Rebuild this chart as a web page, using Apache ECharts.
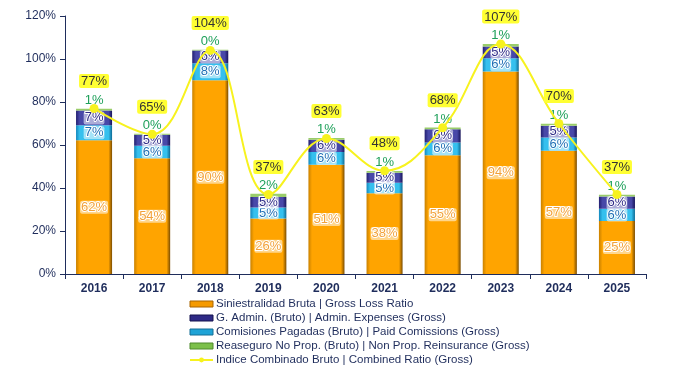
<!DOCTYPE html>
<html>
<head>
<meta charset="utf-8">
<script src="https://cdn.jsdelivr.net/npm/echarts@6/dist/echarts.min.js"></script>
<style>
  html, body { margin: 0; padding: 0; background: #fff; }
  #chart { width: 698px; height: 371px; }
</style>
</head>
<body>
<div id="chart"></div>
<script>
// datos (porcentaje)
var years = ['2016', '2017', '2018', '2019', '2020', '2021', '2022', '2023', '2024', '2025'];
var lossRatio = [62.2, 53.8, 90.1, 25.8, 50.8, 37.6, 55.2, 94.2, 57.3, 24.6];
var commissions = [7.0, 5.8, 7.9, 5.1, 5.9, 4.8, 6.0, 6.2, 6.2, 5.7];
var adminExp = [6.8, 5.2, 6.0, 4.9, 5.8, 4.7, 6.1, 5.4, 5.4, 5.7];
var reinsurance = [0.9, 0.4, 0.3, 1.5, 0.7, 0.8, 0.8, 1.2, 1.0, 0.9];
var combined = [77, 65, 104, 37, 63, 48, 68, 107, 70, 37];
var yTicks = [0, 20, 40, 60, 80, 100, 120];

var names = [
    'Siniestralidad Bruta | Gross Loss Ratio',
    'G. Admin. (Bruto) | Admin. Expenses (Gross)',
    'Comisiones Pagadas (Bruto) | Paid Comissions (Gross)',
    'Reaseguro No Prop. (Bruto) | Non Prop. Reinsurance (Gross)',
    'Indice Combinado Bruto | Combined Ratio (Gross)'
];

var navy = '#1F2D5C';

function bevel(edge, mid, dark) {
    return new echarts.graphic.LinearGradient(0, 0, 1, 0, [
        { offset: 0, color: edge },
        { offset: 0.1, color: mid },
        { offset: 0.9, color: mid },
        { offset: 1, color: dark }
    ]);
}

function pct(p) {
    return Math.round(p.value) + '%';
}

function innerLabel(color) {
    return {
        show: true,
        position: 'inside',
        formatter: pct,
        fontFamily: 'Liberation Sans',
        fontSize: 13,
        color: color,
        textBorderColor: '#fff',
        textBorderWidth: 2,
        backgroundColor: 'rgba(255,255,255,0.55)',
        padding: [0, 1],
        borderRadius: 2
    };
}

var chart = echarts.init(document.getElementById('chart'));
var option = {
    animation: false,
    textStyle: { fontFamily: 'Liberation Sans' },
    grid: { left: 65, right: 52, top: 16, bottom: 97 },
    legend: {
        orient: 'vertical',
        left: 184,
        top: 293,
        height: 90,
        itemWidth: 23,
        itemHeight: 6,
        itemGap: 2,
        textStyle: { fontSize: 11.5, color: navy, fontFamily: 'Liberation Sans', padding: [0, 0, 0, -2] },
        data: [
            { name: names[0], icon: 'rect', itemStyle: { color: '#F59A00', borderColor: '#A86400', borderWidth: 1 } },
            { name: names[1], icon: 'rect', itemStyle: { color: '#2E2A86', borderColor: '#15134F', borderWidth: 1 } },
            { name: names[2], icon: 'rect', itemStyle: { color: '#1FA3D6', borderColor: '#146E96', borderWidth: 1 } },
            { name: names[3], icon: 'rect', itemStyle: { color: '#7CC04A', borderColor: '#4E8A2C', borderWidth: 1 } },
            { name: names[4] }
        ]
    },
    xAxis: {
        type: 'category',
        data: years,
        axisLine: { lineStyle: { color: navy, width: 1 } },
        axisTick: { show: true, length: 5, lineStyle: { color: navy } },
        axisLabel: { color: navy, fontSize: 12, fontWeight: 'bold', margin: 9 }
    },
    yAxis: {
        type: 'value',
        min: yTicks[0],
        max: yTicks[yTicks.length - 1],
        interval: 20,
        axisLine: { show: true, lineStyle: { color: navy, width: 1 } },
        axisTick: { show: true, length: 5, lineStyle: { color: navy } },
        splitLine: { show: false },
        axisLabel: { color: navy, fontSize: 12, margin: 9, formatter: '{value}%' }
    },
    series: [{
        name: names[0],
        type: 'bar',
        stack: 'total',
        barWidth: '62%',
        data: lossRatio,
        itemStyle: { color: bevel('#C98100', '#FFA400', '#7A4C00') },
        label: innerLabel('#F2A23A')
    }, {
        name: names[2],
        type: 'bar',
        stack: 'total',
        data: commissions,
        itemStyle: { color: bevel('#1487BC', '#35C0EE', '#0E6A94') },
        label: innerLabel('#1F6FB5')
    }, {
        name: names[1],
        type: 'bar',
        stack: 'total',
        data: adminExp,
        itemStyle: { color: bevel('#231F70', '#4848A8', '#18155A') },
        label: innerLabel('#2E2A86')
    }, {
        name: names[3],
        type: 'bar',
        stack: 'total',
        data: reinsurance,
        itemStyle: { color: '#9ACD6A' },
        label: {
            show: true,
            position: 'top',
            distance: 2,
            formatter: pct,
            fontSize: 13,
            color: '#1FA05A'
        }
    }, {
        name: names[4],
        type: 'line',
        smooth: 0.4,
        data: combined,
        z: 5,
        symbol: 'circle',
        symbolSize: 9,
        lineStyle: { color: '#F7F21E', width: 2 },
        itemStyle: { color: '#F7F21E' },
        label: {
            show: true,
            position: 'top',
            distance: 16,
            formatter: pct,
            fontSize: 13,
            color: '#333',
            backgroundColor: '#FFFF33',
            padding: [1, 2, 0, 2],
            borderRadius: 2
        }
    }]
};
chart.setOption(option);
</script>
</body>
</html>
